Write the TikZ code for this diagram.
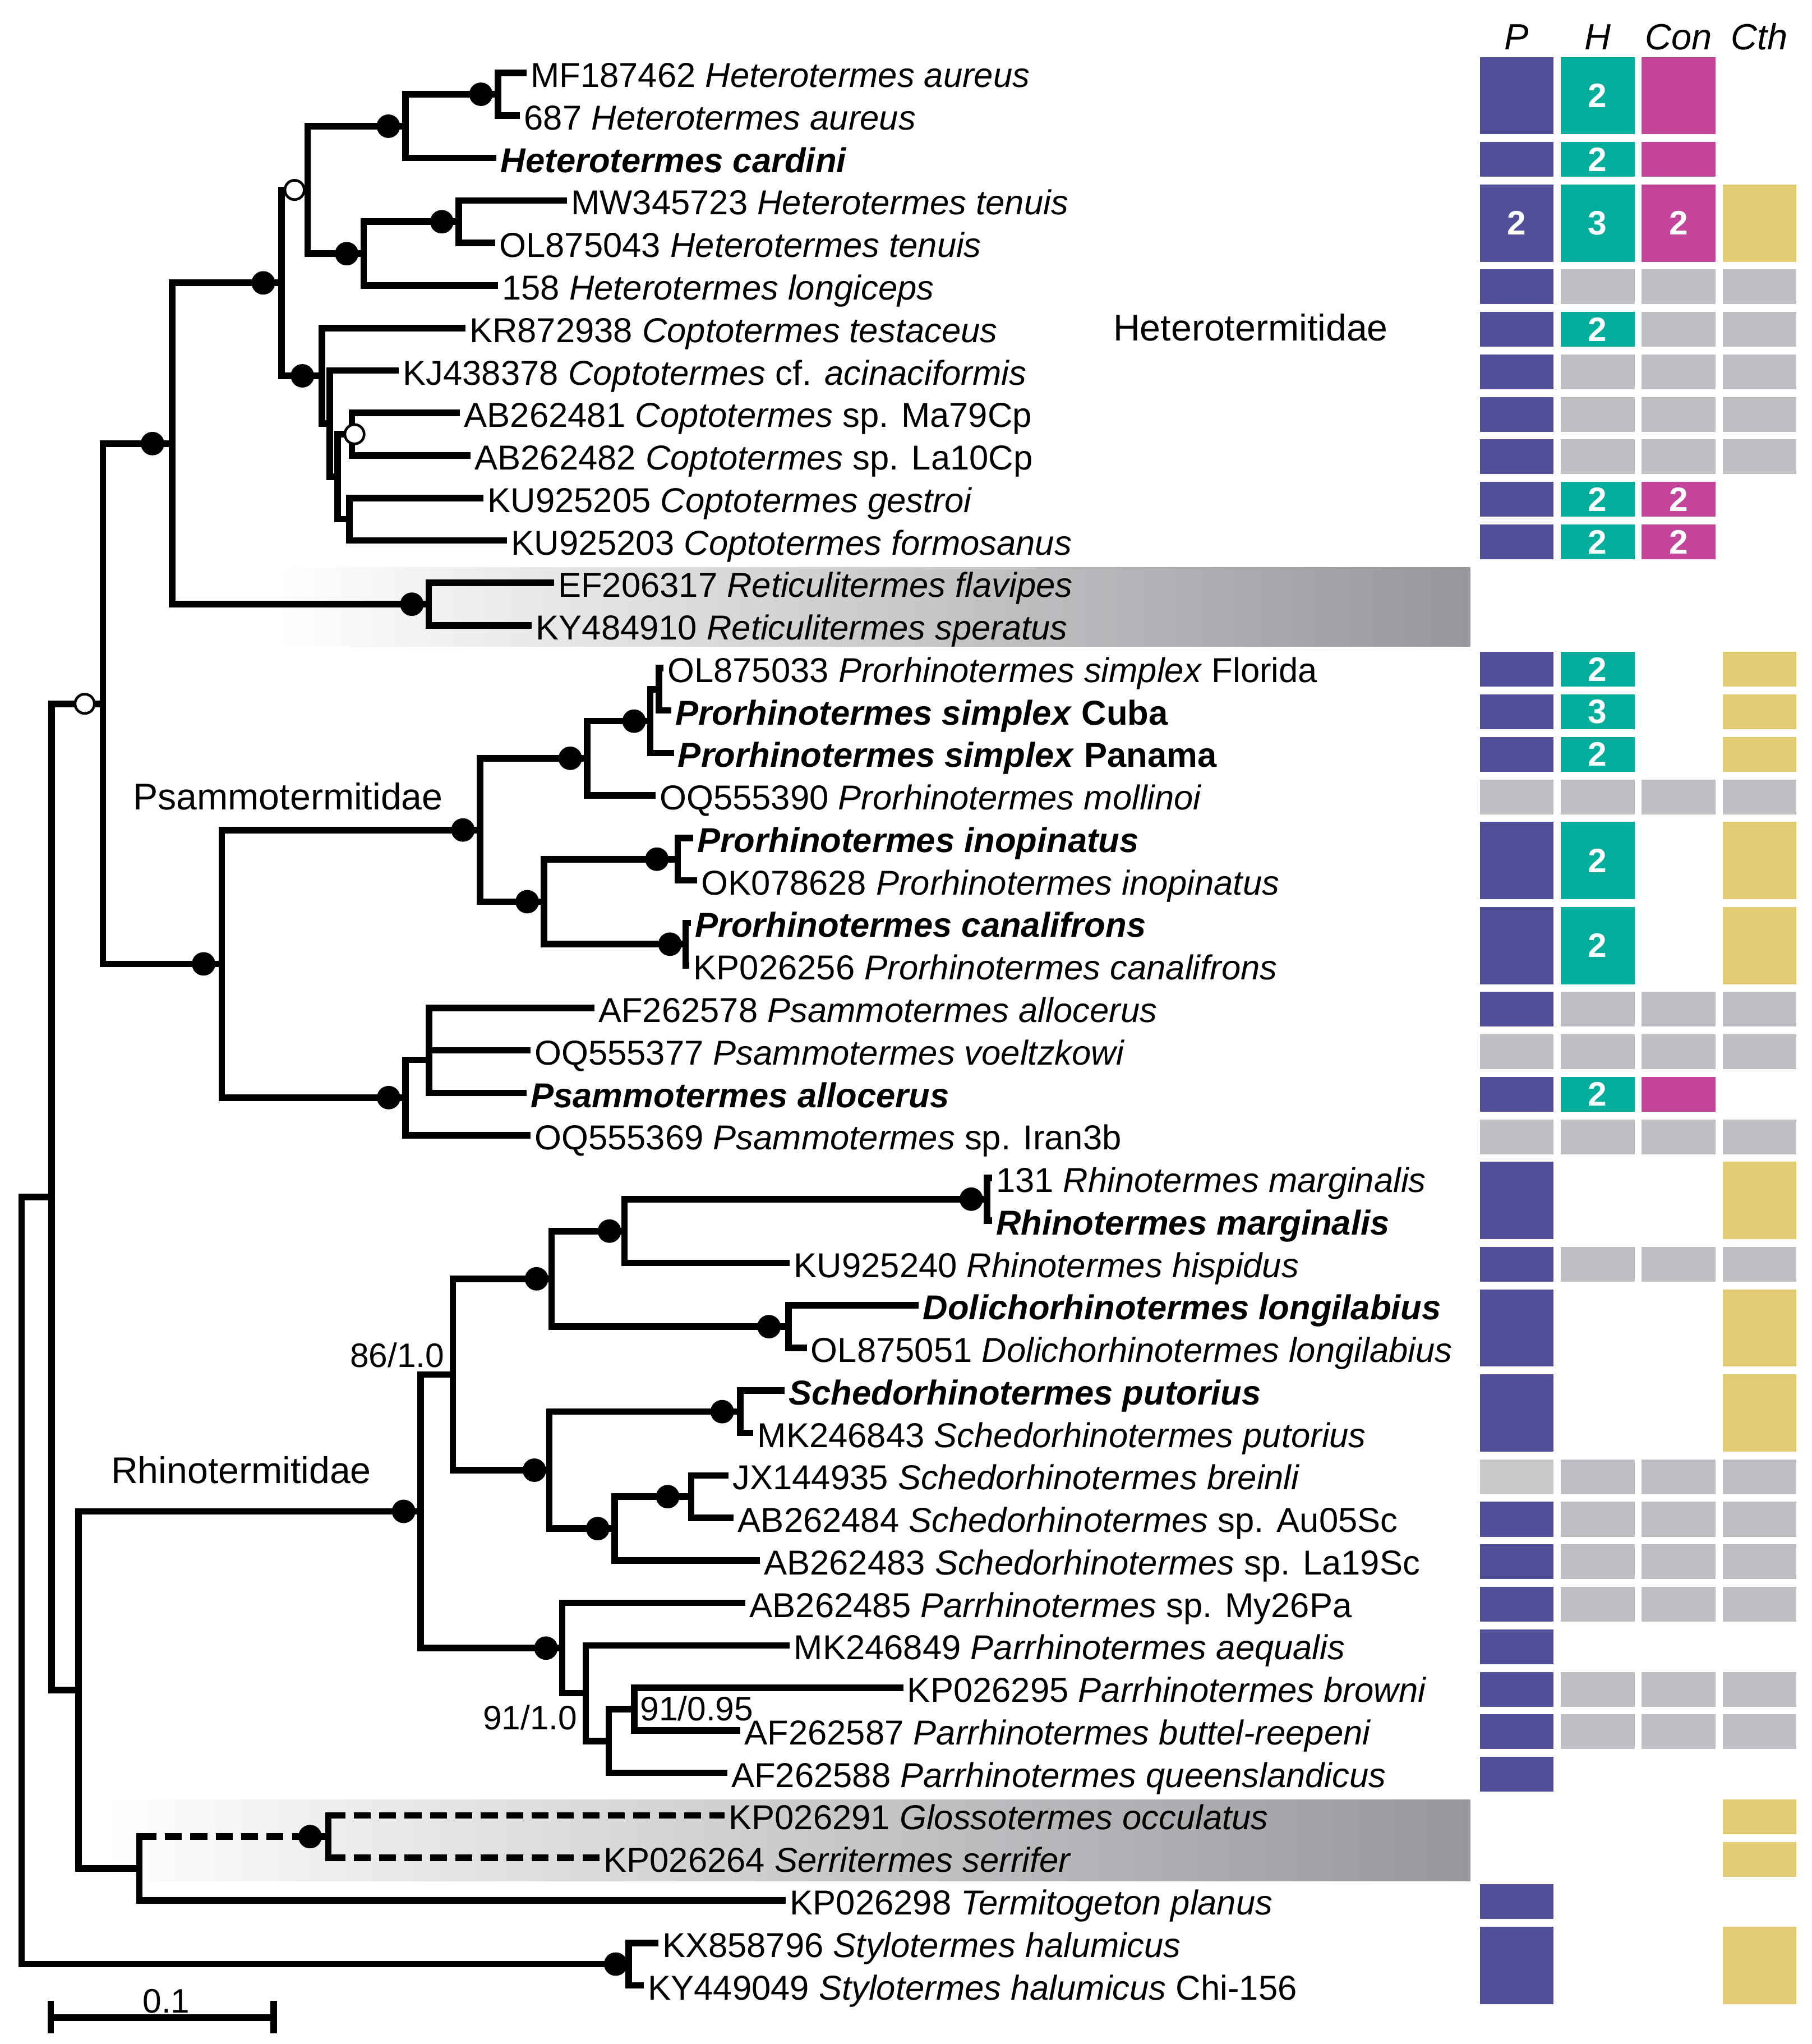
\documentclass[tikz,border=0pt]{standalone}
\usepackage{fontspec}
\setmainfont{Liberation Sans}

% support dots on the branches (shift = offset from the node's vertical line)
\newcommand{\bsdot}[2][-13]{\fill ([xshift=#1pt]#2) circle (9pt);}
\newcommand{\opdot}[2][-12]{\filldraw[fill=white, line width=2pt] ([xshift=#1pt]#2) circle (7.4pt);}
% one box of the trait matrix: column, first row, last row, colour, count
\newcommand{\traitbox}[5]{%
  \pgfmathsetmacro{\tbx}{1163.7+62.1*#1}%
  \pgfmathsetmacro{\tbh}{32.6*(#3-#2)+26.7}%
  \pgfmathsetmacro{\tby}{56+32.6*(#2-1)-12.3+\tbh/2}%
  \node[cell, fill=#4, minimum height=\tbh pt] (c#1r#2) at (\tbx,\tby) {#5};}

\begin{document}
\begin{tikzpicture}[x=1pt, y=-1pt,
    br/.style={line width=5pt},
    dashbr/.style={line width=5pt, dash pattern=on 13pt off 6.5pt},
    taxon/.style={anchor=west, inner xsep=3pt, inner ysep=0pt, text height=22pt, text depth=0pt, font=\fontsize{26.5}{30}\selectfont},
    famlabel/.style={anchor=base west, inner sep=0pt, font=\fontsize{28.5}{32}\selectfont},
    suplabel/.style={inner sep=0pt, font=\fontsize{26}{30}\selectfont},
    head/.style={anchor=base, inner sep=0pt, font=\itshape\fontsize{28}{32}\selectfont},
    cell/.style={rectangle, inner sep=0pt, minimum width=56.6pt, text=white, font=\bfseries\fontsize{26}{28}\selectfont}]
    % Define trait colours
    \definecolor{pcol}{RGB}{81,79,154}     % P purple
    \definecolor{hcol}{RGB}{0,174,155}     % H teal
    \definecolor{concol}{RGB}{196,68,156}  % Con magenta
    \definecolor{cthcol}{RGB}{227,203,116} % Cth yellow
    \definecolor{nacol}{RGB}{190,191,195}  % no data grey
    \definecolor{nalight}{RGB}{201,201,202}
    \definecolor{bandgray}{RGB}{150,151,155}

    \useasboundingbox (0,0) rectangle (1390,1568);

    % --- grey bands behind excluded taxa ---
    \fill[left color=white, right color=bandgray] (210.8,435.4) rectangle (1128,495.7);
    \fill[left color=white, right color=bandgray] (79,1380.6) rectangle (1128,1442.8);

    % --- taxa (tips) ---
    \node[taxon] (t1) at (404,56.0) {MF187462 \textit{Heterotermes aureus}};
    \node[taxon] (t2) at (399,88.6) {687 \textit{Heterotermes aureus}};
    \node[taxon] (t3) at (381,121.2) {\textbf{\textit{Heterotermes cardini}}};
    \node[taxon] (t4) at (435,153.8) {MW345723 \textit{Heterotermes tenuis}};
    \node[taxon] (t5) at (380,186.4) {OL875043 \textit{Heterotermes tenuis}};
    \node[taxon] (t6) at (382,219.0) {158 \textit{Heterotermes longiceps}};
    \node[taxon] (t7) at (357,251.6) {KR872938 \textit{Coptotermes testaceus}};
    \node[taxon] (t8) at (306,284.2) {KJ438378 \textit{Coptotermes} cf. \textit{acinaciformis}};
    \node[taxon] (t9) at (353,316.8) {AB262481 \textit{Coptotermes} sp. Ma79Cp};
    \node[taxon] (t10) at (361,349.4) {AB262482 \textit{Coptotermes} sp. La10Cp};
    \node[taxon] (t11) at (371,382.0) {KU925205 \textit{Coptotermes gestroi}};
    \node[taxon] (t12) at (389,414.6) {KU925203 \textit{Coptotermes formosanus}};
    \node[taxon] (t13) at (425,447.2) {EF206317 \textit{Reticulitermes flavipes}};
    \node[taxon] (t14) at (408,479.8) {KY484910 \textit{Reticulitermes speratus}};
    \node[taxon] (t15) at (509,512.4) {OL875033 \textit{Prorhinotermes simplex} Florida};
    \node[taxon] (t16) at (515,545.0) {\textbf{\textit{Prorhinotermes simplex} Cuba}};
    \node[taxon] (t17) at (517,577.6) {\textbf{\textit{Prorhinotermes simplex} Panama}};
    \node[taxon] (t18) at (503,610.2) {OQ555390 \textit{Prorhinotermes mollinoi}};
    \node[taxon] (t19) at (532,642.8) {\textbf{\textit{Prorhinotermes inopinatus}}};
    \node[taxon] (t20) at (535,675.4) {OK078628 \textit{Prorhinotermes inopinatus}};
    \node[taxon] (t21) at (530,708.0) {\textbf{\textit{Prorhinotermes canalifrons}}};
    \node[taxon] (t22) at (529,740.6) {KP026256 \textit{Prorhinotermes canalifrons}};
    \node[taxon] (t23) at (456,773.2) {AF262578 \textit{Psammotermes allocerus}};
    \node[taxon] (t24) at (407,805.8) {OQ555377 \textit{Psammotermes voeltzkowi}};
    \node[taxon] (t25) at (404,838.4) {\textbf{\textit{Psammotermes allocerus}}};
    \node[taxon] (t26) at (407,871.0) {OQ555369 \textit{Psammotermes} sp. Iran3b};
    \node[taxon] (t27) at (761,903.6) {131 \textit{Rhinotermes marginalis}};
    \node[taxon] (t28) at (761,936.2) {\textbf{\textit{Rhinotermes marginalis}}};
    \node[taxon] (t29) at (606,968.8) {KU925240 \textit{Rhinotermes hispidus}};
    \node[taxon] (t30) at (705,1001.4) {\textbf{\textit{Dolichorhinotermes longilabius}}};
    \node[taxon] (t31) at (619,1034.0) {OL875051 \textit{Dolichorhinotermes longilabius}};
    \node[taxon] (t32) at (602,1066.6) {\textbf{\textit{Schedorhinotermes putorius}}};
    \node[taxon] (t33) at (578,1099.2) {MK246843 \textit{Schedorhinotermes putorius}};
    \node[taxon] (t34) at (559,1131.8) {JX144935 \textit{Schedorhinotermes breinli}};
    \node[taxon] (t35) at (563,1164.4) {AB262484 \textit{Schedorhinotermes} sp. Au05Sc};
    \node[taxon] (t36) at (583,1197.0) {AB262483 \textit{Schedorhinotermes} sp. La19Sc};
    \node[taxon] (t37) at (572,1229.6) {AB262485 \textit{Parrhinotermes} sp. My26Pa};
    \node[taxon] (t38) at (606,1262.2) {MK246849 \textit{Parrhinotermes aequalis}};
    \node[taxon] (t39) at (693,1294.8) {KP026295 \textit{Parrhinotermes browni}};
    \node[taxon] (t40) at (568,1327.4) {AF262587 \textit{Parrhinotermes buttel-reepeni}};
    \node[taxon] (t41) at (558,1360.0) {AF262588 \textit{Parrhinotermes queenslandicus}};
    \node[taxon] (t42) at (556,1392.6) {KP026291 \textit{Glossotermes occulatus}};
    \node[taxon] (t43) at (460,1425.2) {KP026264 \textit{Serritermes serrifer}};
    \node[taxon] (t44) at (603,1457.8) {KP026298 \textit{Termitogeton planus}};
    \node[taxon] (t45) at (505,1490.4) {KX858796 \textit{Stylotermes halumicus}};
    \node[taxon] (t46) at (494,1523.0) {KY449049 \textit{Stylotermes halumicus} Chi-156};

    % --- internal nodes ---
    \coordinate (root) at (16.5,1212.5);
    \coordinate (n1) at (39.5,918.2);
    \coordinate (n2) at (79,539.9);
    \coordinate (het) at (132,340.3);
    \coordinate (hc) at (216,217);
    \coordinate (hh) at (236,145.7);
    \coordinate (ha) at (311,96.8);
    \coordinate (haa) at (382,72.3);
    \coordinate (ht) at (279,194.6);
    \coordinate (htt) at (352,170.1);
    \coordinate (cop) at (247,288.3);
    \coordinate (c2) at (253,325);
    \coordinate (c3) at (259,365.7);
    \coordinate (c4) at (270,333.1);
    \coordinate (c5) at (268,398.3);
    \coordinate (ret) at (329,463.5);
    \coordinate (psam) at (170.2,739.4);
    \coordinate (pr) at (368.2,636.7);
    \coordinate (pr1) at (450.5,581.7);
    \coordinate (pr3) at (499,553.2);
    \coordinate (pr4) at (505.5,528.7);
    \coordinate (pr2) at (417.5,691.7);
    \coordinate (pi) at (520,659.1);
    \coordinate (pc) at (526,724.3);
    \coordinate (ps) at (311.2,842);
    \coordinate (ps2) at (329.3,813);
    \coordinate (n3) at (60.3,1296.4);
    \coordinate (r0) at (322.7,1159.4);
    \coordinate (ra) at (347.4,1054.4);
    \coordinate (rb) at (423.2,981);
    \coordinate (rc) at (479.1,944.4);
    \coordinate (rmar) at (757.2,919.9);
    \coordinate (rd) at (605,1017.7);
    \coordinate (re) at (421.5,1127.8);
    \coordinate (rf) at (568.1,1082.9);
    \coordinate (rg) at (471.6,1172.6);
    \coordinate (rh) at (530.3,1148.1);
    \coordinate (p1) at (431.4,1264.3);
    \coordinate (p2) at (449.5,1298.9);
    \coordinate (p3) at (467,1335.6);
    \coordinate (p4) at (486.7,1311.1);
    \coordinate (n4) at (107,1433.4);
    \coordinate (gs) at (251.9,1408.9);
    \coordinate (sty) at (482.4,1506.7);

    % --- branches: backbone ---
    \draw[br] (root) |- (n1) (root) |- (sty);
    \draw[br] (n1) |- (n2) (n1) |- (n3);
    \draw[br] (n2) |- (het) (n2) |- (psam);

    % Heterotermitidae
    \draw[br] (het) |- (hc) (het) |- (ret);
    \draw[br] (hc) |- (hh) (hc) |- (cop);
    \draw[br] (hh) |- (ha) (hh) |- (ht);
    \draw[br] (ha) |- (haa) (ha) |- (t3);
    \draw[br] (haa) |- (t1) (haa) |- (t2);
    \draw[br] (ht) |- (htt) (ht) |- (t6);
    \draw[br] (htt) |- (t4) (htt) |- (t5);
    \draw[br] (cop) |- (t7) (cop) |- (c2);
    \draw[br] (c2) |- (t8) (c2) |- (c3);
    \draw[br] (c3) |- (c4) (c3) |- (c5);
    \draw[br] (c4) |- (t9) (c4) |- (t10);
    \draw[br] (c5) |- (t11) (c5) |- (t12);
    \draw[br] (ret) |- (t13) (ret) |- (t14);

    % Psammotermitidae
    \draw[br] (psam) |- (pr) (psam) |- (ps);
    \draw[br] (pr) |- (pr1) (pr) |- (pr2);
    \draw[br] (pr1) |- (pr3) (pr1) |- (t18);
    \draw[br] (pr3) |- (pr4) (pr3) |- (t17);
    \draw[br] (pr4) |- (t15) (pr4) |- (t16);
    \draw[br] (pr2) |- (pi) (pr2) |- (pc);
    \draw[br] (pi) |- (t19) (pi) |- (t20);
    \draw[br] (pc) |- (t21) (pc) |- (t22);
    \draw[br] (ps) |- (ps2) (ps) |- (t26);
    \draw[br] (ps2) |- (t23) (ps2) |- (t24) (ps2) |- (t25);

    % Rhinotermitidae
    \draw[br] (n3) |- (r0) (n3) |- (n4);
    \draw[br] (r0) |- (ra) (r0) |- (p1);
    \draw[br] (ra) |- (rb) (ra) |- (re);
    \draw[br] (rb) |- (rc) (rb) |- (rd);
    \draw[br] (rc) |- (rmar) (rc) |- (t29);
    \draw[br] (rmar) |- (t27) (rmar) |- (t28);
    \draw[br] (rd) |- (t30) (rd) |- (t31);
    \draw[br] (re) |- (rf) (re) |- (rg);
    \draw[br] (rf) |- (t32) (rf) |- (t33);
    \draw[br] (rg) |- (rh) (rg) |- (t36);
    \draw[br] (rh) |- (t34) (rh) |- (t35);
    \draw[br] (p1) |- (t37) (p1) |- (p2);
    \draw[br] (p2) |- (t38) (p2) |- (p3);
    \draw[br] (p3) |- (p4) (p3) |- (t41);
    \draw[br] (p4) |- (t39) (p4) |- (t40);

    % Glossotermes + Serritermes (dashed), Termitogeton, Stylotermes
    \draw[br] (n4) |- (t44);
    \draw[br, line cap=rect] (n4) -- (n4 |- gs);
    \draw[dashbr] (n4 |- gs) -- (gs);
    \draw[br, line cap=rect] (gs |- t42) -- (gs |- t43);
    \draw[dashbr] (gs |- t42) -- (t42);
    \draw[dashbr] (gs |- t43) -- (t43);
    \draw[br] (sty) |- (t45) (sty) |- (t46);

    % --- support dots ---
    \bsdot{haa} \bsdot{ha} \bsdot{htt} \bsdot{ht} \bsdot[-14]{hc} \bsdot[-15]{cop}
    \bsdot{ret} \bsdot[-15]{het}
    \bsdot[-12.5]{pr3} \bsdot{pr1} \bsdot{pr} \bsdot{pr2} \bsdot[-16]{pi} \bsdot[-12]{pc}
    \bsdot{ps} \bsdot[-14]{psam}
    \bsdot[-12]{rmar} \bsdot[-11.5]{rc} \bsdot[-11.5]{rb} \bsdot[-15]{rd} \bsdot[-14]{rf}
    \bsdot[-18]{rh} \bsdot{rg} \bsdot[-11.5]{re} \bsdot[-12.5]{p1} \bsdot{r0}
    \bsdot[-14]{gs} \bsdot[-10]{sty}
    \opdot[-10]{hh} \opdot[2]{c4} \opdot[-14]{n2}

    % --- clade and support labels ---
    \node[famlabel] (fhet) at (854,261.5) {Heterotermitidae};
    \node[famlabel] (fpsa) at (102,621) {Psammotermitidae};
    \node[famlabel] (frhi) at (85,1138) {Rhinotermitidae};
    \node[suplabel, anchor=base east] (s86) at (341,1049) {86/1.0};
    \node[suplabel, anchor=base east] (s91a) at (443,1327) {91/1.0};
    \node[suplabel, anchor=base west] (s91b) at (491,1320) {91/0.95};

    % scale bar
    \draw[br] (38.9,1535) -- (38.9,1560) (38.9,1547.7) -- (210.1,1547.7) (210.1,1535) -- (210.1,1560);
    \node[suplabel, anchor=base] (bar) at (127.6,1544) {0.1};

    % --- trait matrix ---
    \node[head] (hdp) at (1163.7,38) {P};
    \node[head] (hdh) at (1225.8,38) {H};
    \node[head] (hdcon) at (1287.9,38) {Con};
    \node[head] (hdcth) at (1350,38) {Cth};

    \traitbox{0}{1}{2}{pcol}{} \traitbox{1}{1}{2}{hcol}{2} \traitbox{2}{1}{2}{concol}{}
    \traitbox{0}{3}{3}{pcol}{} \traitbox{1}{3}{3}{hcol}{2} \traitbox{2}{3}{3}{concol}{}
    \traitbox{0}{4}{5}{pcol}{2} \traitbox{1}{4}{5}{hcol}{3} \traitbox{2}{4}{5}{concol}{2} \traitbox{3}{4}{5}{cthcol}{}
    \traitbox{0}{6}{6}{pcol}{}
    \traitbox{0}{7}{7}{pcol}{} \traitbox{1}{7}{7}{hcol}{2}
    \traitbox{0}{8}{8}{pcol}{}
    \traitbox{0}{9}{9}{pcol}{}
    \traitbox{0}{10}{10}{pcol}{}
    \traitbox{0}{11}{11}{pcol}{} \traitbox{1}{11}{11}{hcol}{2} \traitbox{2}{11}{11}{concol}{2}
    \traitbox{0}{12}{12}{pcol}{} \traitbox{1}{12}{12}{hcol}{2} \traitbox{2}{12}{12}{concol}{2}
    \traitbox{0}{15}{15}{pcol}{} \traitbox{1}{15}{15}{hcol}{2} \traitbox{3}{15}{15}{cthcol}{}
    \traitbox{0}{16}{16}{pcol}{} \traitbox{1}{16}{16}{hcol}{3} \traitbox{3}{16}{16}{cthcol}{}
    \traitbox{0}{17}{17}{pcol}{} \traitbox{1}{17}{17}{hcol}{2} \traitbox{3}{17}{17}{cthcol}{}
    \traitbox{0}{18}{18}{nacol}{}
    \traitbox{0}{19}{20}{pcol}{} \traitbox{1}{19}{20}{hcol}{2} \traitbox{3}{19}{20}{cthcol}{}
    \traitbox{0}{21}{22}{pcol}{} \traitbox{1}{21}{22}{hcol}{2} \traitbox{3}{21}{22}{cthcol}{}
    \traitbox{0}{23}{23}{pcol}{}
    \traitbox{0}{24}{24}{nacol}{}
    \traitbox{0}{25}{25}{pcol}{} \traitbox{1}{25}{25}{hcol}{2} \traitbox{2}{25}{25}{concol}{}
    \traitbox{0}{26}{26}{nacol}{}
    \traitbox{0}{27}{28}{pcol}{} \traitbox{3}{27}{28}{cthcol}{}
    \traitbox{0}{29}{29}{pcol}{}
    \traitbox{0}{30}{31}{pcol}{} \traitbox{3}{30}{31}{cthcol}{}
    \traitbox{0}{32}{33}{pcol}{} \traitbox{3}{32}{33}{cthcol}{}
    \traitbox{0}{34}{34}{nalight}{}
    \traitbox{0}{35}{35}{pcol}{}
    \traitbox{0}{36}{36}{pcol}{}
    \traitbox{0}{37}{37}{pcol}{}
    \traitbox{0}{38}{38}{pcol}{}
    \traitbox{0}{39}{39}{pcol}{}
    \traitbox{0}{40}{40}{pcol}{}
    \traitbox{0}{41}{41}{pcol}{}
    \traitbox{3}{42}{42}{cthcol}{}
    \traitbox{3}{43}{43}{cthcol}{}
    \traitbox{0}{44}{44}{pcol}{}
    \traitbox{0}{45}{46}{pcol}{} \traitbox{3}{45}{46}{cthcol}{}
    % no data in H, Con and Cth
    \foreach \r in {6,8,9,10,18,23,24,26,29,34,35,36,37,39,40}
        {\traitbox{1}{\r}{\r}{nacol}{}}
    \foreach \r in {6,7,8,9,10,18,23,24,26,29,34,35,36,37,39,40}
        {\traitbox{2}{\r}{\r}{nacol}{} \traitbox{3}{\r}{\r}{nacol}{}}
\end{tikzpicture}
\end{document}
